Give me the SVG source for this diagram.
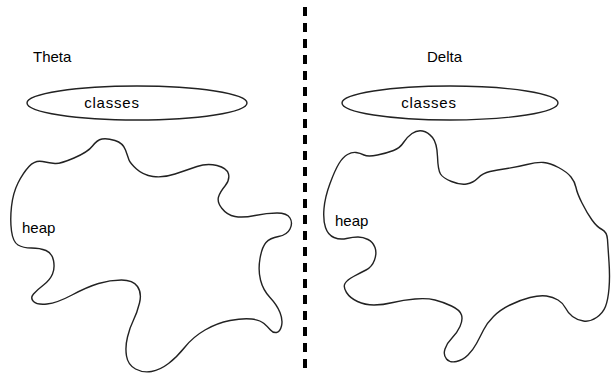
<svg xmlns="http://www.w3.org/2000/svg" width="612" height="381" viewBox="0 0 612 381">
<style>
.lbl{font-family:"Liberation Sans",Arial,sans-serif;font-size:15px;fill:#000}
.shape{fill:none;stroke:#222;stroke-width:1.4}
.divider{stroke:#000;stroke-width:4;stroke-dasharray:9 7}
</style>
<rect width="612" height="381" fill="#fff"/>
<g id="connectors">
<line class="divider" x1="305" y1="7" x2="305" y2="374"/>
</g>
<g id="theta-label"><text class="lbl" x="33" y="62">Theta</text></g>
<g id="delta-label"><text class="lbl" x="427" y="62">Delta</text></g>
<g id="theta-classes">
<ellipse class="shape" cx="137" cy="103" rx="110" ry="17"/>
<text class="lbl" x="112" y="108" text-anchor="middle" letter-spacing="0.8">classes</text>
</g>
<g id="delta-classes">
<ellipse class="shape" cx="450" cy="103" rx="108" ry="17"/>
<text class="lbl" x="429" y="108" text-anchor="middle" letter-spacing="0.8">classes</text>
</g>
<g id="theta-heap">
<path class="shape" d="M29,166.5 Q35,160 42.5,161.5 Q50,163 55,163.5 Q60,164 74,158 Q88,152 92.5,146 Q97,140 102,139 Q107,138 115,140.5 Q123,143 125.5,150 Q128,157 129,160 Q130,163 136.5,169 Q143,175 153,176.5 Q163,178 175,174 Q187,170 197,166.5 Q207,163 217,165.5 Q227,168 228.5,174 Q230,180 225,186 Q220,192 218.5,197 Q217,202 222,208.5 Q227,215 235,216.5 Q243,218 255,215.5 Q267,213 277,213 Q287,213 290,218 Q293,223 290,229 Q287,235 278.5,236.5 Q270,238 266,242.5 Q262,247 260,258.5 Q258,270 260.5,280 Q263,290 270,297.5 Q277,305 280,312.5 Q283,320 281.5,326 Q280,332 276.5,332.5 Q273,333 270.5,330 Q268,327 264,323.5 Q260,320 251.5,319 Q243,318 230,320.5 Q217,323 205,330 Q193,337 185,347 Q177,357 168.5,363.5 Q160,370 151.5,371.5 Q143,373 135.5,369 Q128,365 126.5,356 Q125,347 127.5,337 Q130,327 133.5,320 Q137,313 139.5,303 Q142,293 137.5,286.5 Q133,280 121.5,280 Q110,280 98.5,283.5 Q87,287 72,295 Q57,303 47,304 Q37,305 33.5,301.5 Q30,298 33.5,294 Q37,290 43.5,285 Q50,280 52.5,274 Q55,268 53.5,260.5 Q52,253 46,250.5 Q40,248 31.5,248 Q23,248 18,245 Q13,242 11.5,231 Q10,220 11.5,206.5 Q13,193 18,183 Q23,173 29,166.5 Z"/>
<text class="lbl" x="22" y="233">heap</text>
</g>
<g id="delta-heap">
<path class="shape" d="M347.5,154.5 Q352,152 356,152.5 Q360,153 364,155 Q368,157 377.5,155 Q387,153 393.5,150.5 Q400,148 403.5,142.5 Q407,137 412,133.5 Q417,130 422.5,131 Q428,132 432.5,137.5 Q437,143 437.5,156.5 Q438,170 440.5,174 Q443,178 451.5,181.5 Q460,185 466.5,184 Q473,183 478,178 Q483,173 490,171.5 Q497,170 507,168.5 Q517,167 527,164.5 Q537,162 543.5,162.5 Q550,163 558.5,167.5 Q567,172 571,177 Q575,182 576,187.5 Q577,193 582,203 Q587,213 592,220 Q597,227 602,229.5 Q607,232 607.5,239.5 Q608,247 609,262 Q610,277 609,288.5 Q608,300 605.5,306.5 Q603,313 596.5,317.5 Q590,322 583.5,321 Q577,320 572.5,316.5 Q568,313 565.5,308 Q563,303 558,300 Q553,297 546.5,296 Q540,295 530,297.5 Q520,300 510,305 Q500,310 493.5,316.5 Q487,323 483.5,330 Q480,337 476.5,343.5 Q473,350 468,355 Q463,360 456.5,361.5 Q450,363 446.5,359 Q443,355 445,349 Q447,343 452,338 Q457,333 460,326.5 Q463,320 461.5,315 Q460,310 451.5,306 Q443,302 435,300 Q427,298 415,299 Q403,300 393,302.5 Q383,305 374,305 Q365,305 357.5,301.5 Q350,298 346.5,292.5 Q343,287 345,283.5 Q347,280 353.5,276.5 Q360,273 366,270 Q372,267 374.5,260 Q377,253 375,247.5 Q373,242 368,239.5 Q363,237 358,237 Q353,237 346.5,238.5 Q340,240 334,237.5 Q328,235 325.5,227.5 Q323,220 324,208.5 Q325,197 330,183.5 Q335,170 339,163.5 Q343,157 347.5,154.5 Z"/>
<text class="lbl" x="335" y="226">heap</text>
</g>
</svg>
